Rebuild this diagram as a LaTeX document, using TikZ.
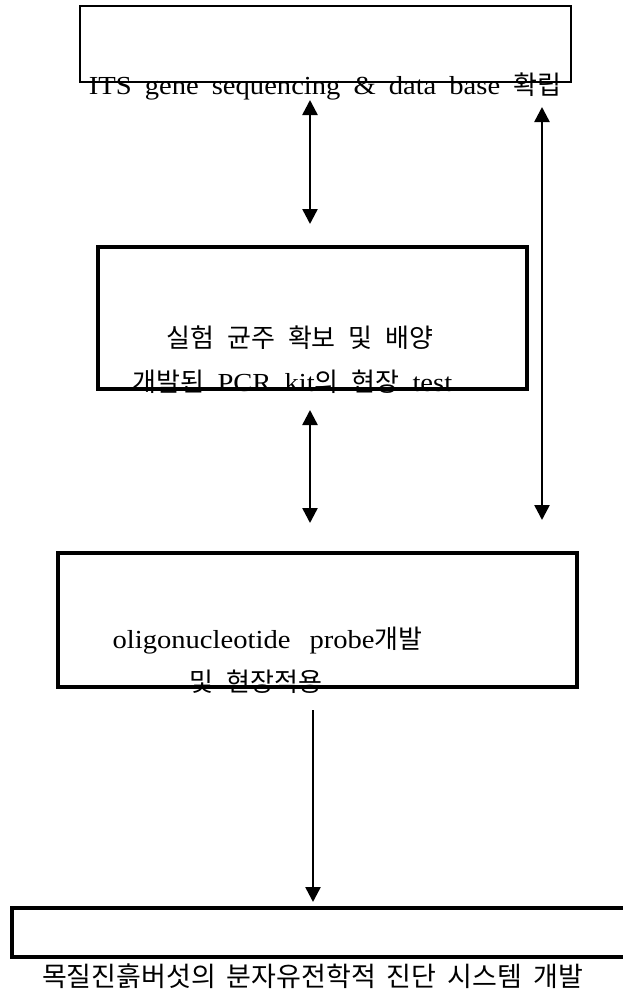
\documentclass[tikz,border=0pt]{standalone}
\usepackage{fontspec}
\setmainfont{Liberation Serif}[FakeStretch=1.1]
\newfontfamily\kr{Noto Sans CJK KR}
\usetikzlibrary{arrows.meta, positioning}
\newcommand{\stagefont}{\fontsize{26}{30}\selectfont\spaceskip 13pt plus 2pt\relax}
\newcommand{\bigstagefont}{\fontsize{27}{31}\selectfont\spaceskip 11pt plus 2pt\relax}

\begin{document}
\begin{tikzpicture}[
    x=1pt, y=-1pt,
    stage/.style={rectangle, draw=black, line width=3.5pt, inner sep=0pt},
    thinstage/.style={stage, line width=2pt},
    stagetext/.style={inner sep=0pt, font=\stagefont},
    bigtext/.style={inner sep=0pt, font=\bigstagefont},
    both/.style={{Triangle[width=15pt,length=15pt]}-{Triangle[width=15pt,length=15pt]}, line width=2.5pt},
    arrow/.style={-{Triangle[width=15pt,length=15pt]}, line width=2.5pt}
]
\useasboundingbox (0,0) rectangle (623,993);

% Nodes
\node[thinstage, minimum width=491pt, minimum height=76pt] (its) at (325.5,44) {};
\node[stage, minimum width=429pt, minimum height=142pt] (strain) at (312.5,318) {};
\node[stage, minimum width=519pt, minimum height=134pt] (probe) at (317.5,620) {};
\node[stage, minimum width=618pt, minimum height=49pt] (system) at (321,932.5) {};

\node[stagetext] (itstext) at (325,86) {ITS gene sequencing \& data base {\kr 확립}};
\node[stagetext] (straintext) at (300,338) {\kr 실험 균주 확보 및 배양};
\node[stagetext] (kittext) at (292.5,382) {{\kr 개발된} PCR kit{\kr 의 현장} test};
\node[stagetext] (probetext) at (267.5,641) {oligonucleotide\hspace{6pt} probe{\kr 개발}};
\node[stagetext] (fieldtext) at (256,682) {\kr 및 현장적용};
\node[bigtext] (systemtext) at (312.5,976) {\kr 목질진흙버섯의 분자유전학적 진단 시스템 개발};

% Arrow ends
\coordinate (a1top) at (310,100);
\coordinate (a1bot) at (310,224);
\coordinate (a2top) at (310,410);
\coordinate (a2bot) at (310,523);
\coordinate (a3top) at (542,107);
\coordinate (a3bot) at (542,520);
\coordinate (a4top) at (313,710);
\coordinate (a4bot) at (313,902);

% Arrows
\draw[both] (a1top) -- (a1bot);
\draw[both] (a2top) -- (a2bot);
\draw[both] (a3top) -- (a3bot);
\draw[arrow] (a4top) -- (a4bot);

\end{tikzpicture}
\end{document}
